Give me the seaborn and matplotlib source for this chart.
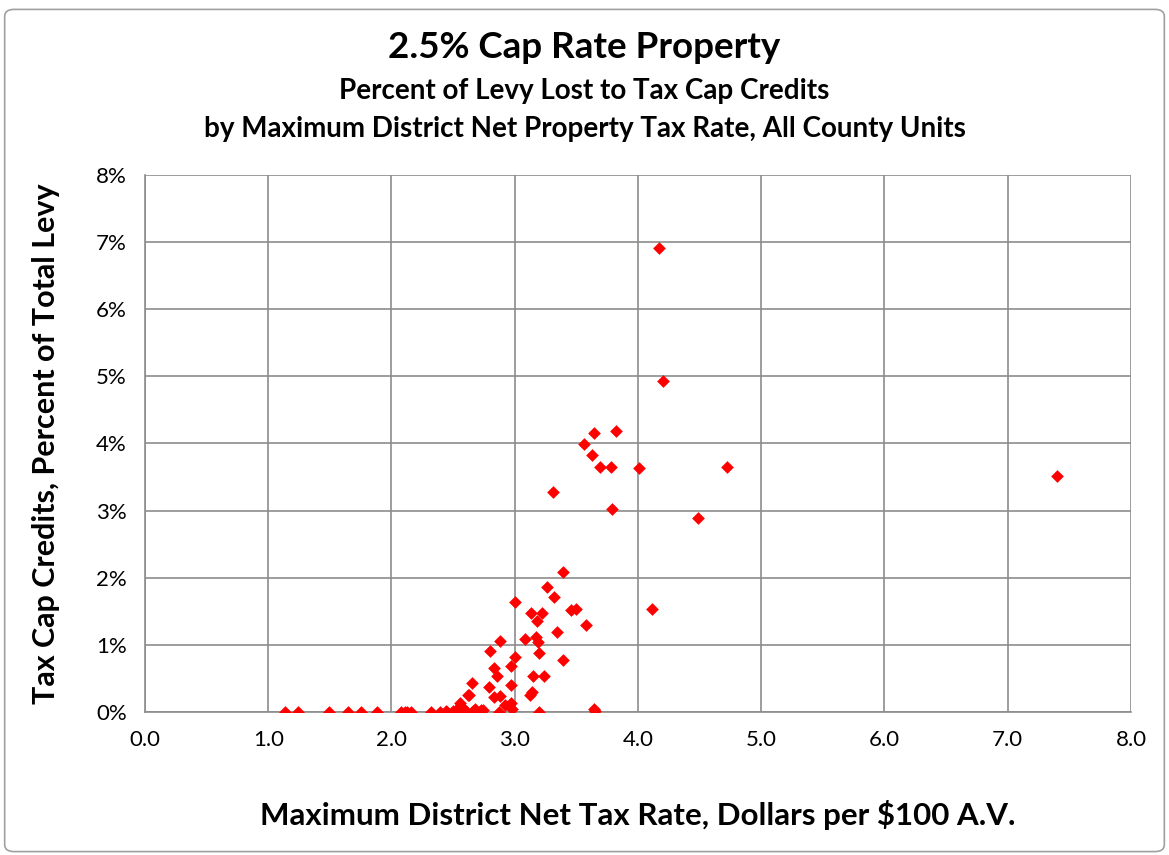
import numpy as np
import pandas as pd
import matplotlib
matplotlib.use("Agg")
import matplotlib.pyplot as plt
import seaborn as sns
from matplotlib.ticker import FuncFormatter, MultipleLocator
from matplotlib.patches import FancyBboxPatch

# max district net tax rate ($ per $100 A.V.) and % of levy lost (as fraction)
tax_rate = [
    1.14, 1.24, 1.49, 1.65, 1.75, 1.88, 2.08, 2.11, 2.13, 2.16,
    2.32, 2.39, 2.44, 2.45, 2.50, 2.52, 2.56, 2.58, 2.61, 2.66, 2.74,
    2.56, 2.57, 2.62, 2.63, 2.65, 2.73, 2.79, 2.80, 2.83, 2.83, 2.86,
    2.87, 2.88, 2.88, 2.97, 2.97, 2.97, 2.98, 3.00, 3.00, 3.08, 3.12,
    3.13, 3.14, 3.15, 3.17, 3.18, 3.19, 3.20, 3.20, 3.22, 3.24, 3.26,
    3.31, 3.32, 3.34, 3.39, 3.39, 3.46, 3.50, 3.56, 3.58, 3.63, 3.64,
    3.64, 3.65, 3.69, 3.78, 3.79, 3.82, 4.01, 4.11, 4.17, 4.20, 4.49,
    4.72, 7.40, 2.68, 2.92,
]
levy_lost = [
    0.0000, 0.0000, 0.0000, 0.0000, 0.0000, 0.0000, 0.0000, 0.0000, 0.0000, 0.0000,
    0.0000, 0.0000, 0.0002, 0.0000, 0.0001, 0.0003, 0.0000, 0.0002, 0.0000, 0.0001, 0.0003,
    0.0013, 0.0008, 0.0025, 0.0025, 0.0043, 0.0003, 0.0037, 0.0091, 0.0065, 0.0023, 0.0054,
    0.0000, 0.0024, 0.0105, 0.0069, 0.0040, 0.0014, 0.0005, 0.0082, 0.0164, 0.0109, 0.0025,
    0.0148, 0.0030, 0.0053, 0.0111, 0.0136, 0.0104, 0.0088, 0.0000, 0.0147, 0.0054, 0.0186,
    0.0327, 0.0172, 0.0119, 0.0208, 0.0077, 0.0152, 0.0153, 0.0399, 0.0129, 0.0383, 0.0416,
    0.0005, 0.0002, 0.0365, 0.0365, 0.0302, 0.0419, 0.0363, 0.0153, 0.0692, 0.0493, 0.0289,
    0.0365, 0.0351, 0.0005, 0.0010,
]

df = pd.DataFrame({"rate": tax_rate, "lost": levy_lost})

sns.set_style("white")
plt.rcParams["font.family"] = ["Lato", "DejaVu Sans"]
plt.rcParams["text.color"] = "black"
plt.rcParams["axes.labelcolor"] = "black"
plt.rcParams["xtick.color"] = "black"
plt.rcParams["ytick.color"] = "black"

fig = plt.figure(figsize=(11.69, 8.55), dpi=100)
ax = fig.add_axes([0.124, 0.1673, 0.8435, 0.628])

sns.scatterplot(data=df, x="rate", y="lost", ax=ax, marker="D", s=42,
                color="#ff0000", edgecolor="#ff0000", linewidth=0, zorder=3)

ax.set_xlim(0, 8)
ax.set_ylim(0, 0.08)
ax.xaxis.set_major_locator(MultipleLocator(1))
ax.yaxis.set_major_locator(MultipleLocator(0.01))
ax.xaxis.set_major_formatter(FuncFormatter(lambda v, p: f"{v:.1f}"))
ax.yaxis.set_major_formatter(FuncFormatter(lambda v, p: f"{v*100:.0f}%"))
ax.grid(True, color="#8c8c8c", linewidth=1.2)
ax.set_axisbelow(True)
for side in ["top", "right"]:
    ax.spines[side].set_visible(False)
for side in ["left", "bottom"]:
    ax.spines[side].set_color("#8c8c8c")
    ax.spines[side].set_linewidth(1.2)
ax.tick_params(axis="both", which="major", labelsize=16, length=6, width=1.2,
               color="#8c8c8c", labelcolor="black", direction="out", pad=7)

ax.set_xlabel("Maximum District Net Tax Rate, Dollars per $100 A.V.",
              fontsize=22.5, fontweight="bold", labelpad=36)
ax.set_ylabel("Tax Cap Credits, Percent of Total Levy",
              fontsize=22, fontweight="bold", labelpad=26)

fig.text(0.500, 0.945, "2.5% Cap Rate Property", ha="center", va="center",
         fontsize=26.5, fontweight="bold")
fig.text(0.500, 0.894, "Percent of Levy Lost to Tax Cap Credits", ha="center",
         va="center", fontsize=20, fontweight="bold")
fig.text(0.500, 0.849, "by Maximum District Net Property Tax Rate, All County Units",
         ha="center", va="center", fontsize=20, fontweight="bold")

frame = FancyBboxPatch((0.004, 0.004), 0.992, 0.985, boxstyle="round,pad=0,rounding_size=0.008",
                       transform=fig.transFigure, fill=False, edgecolor="#a0a0a0",
                       linewidth=1.2)
fig.patches.append(frame)

fig.savefig("out.png", dpi=100)
